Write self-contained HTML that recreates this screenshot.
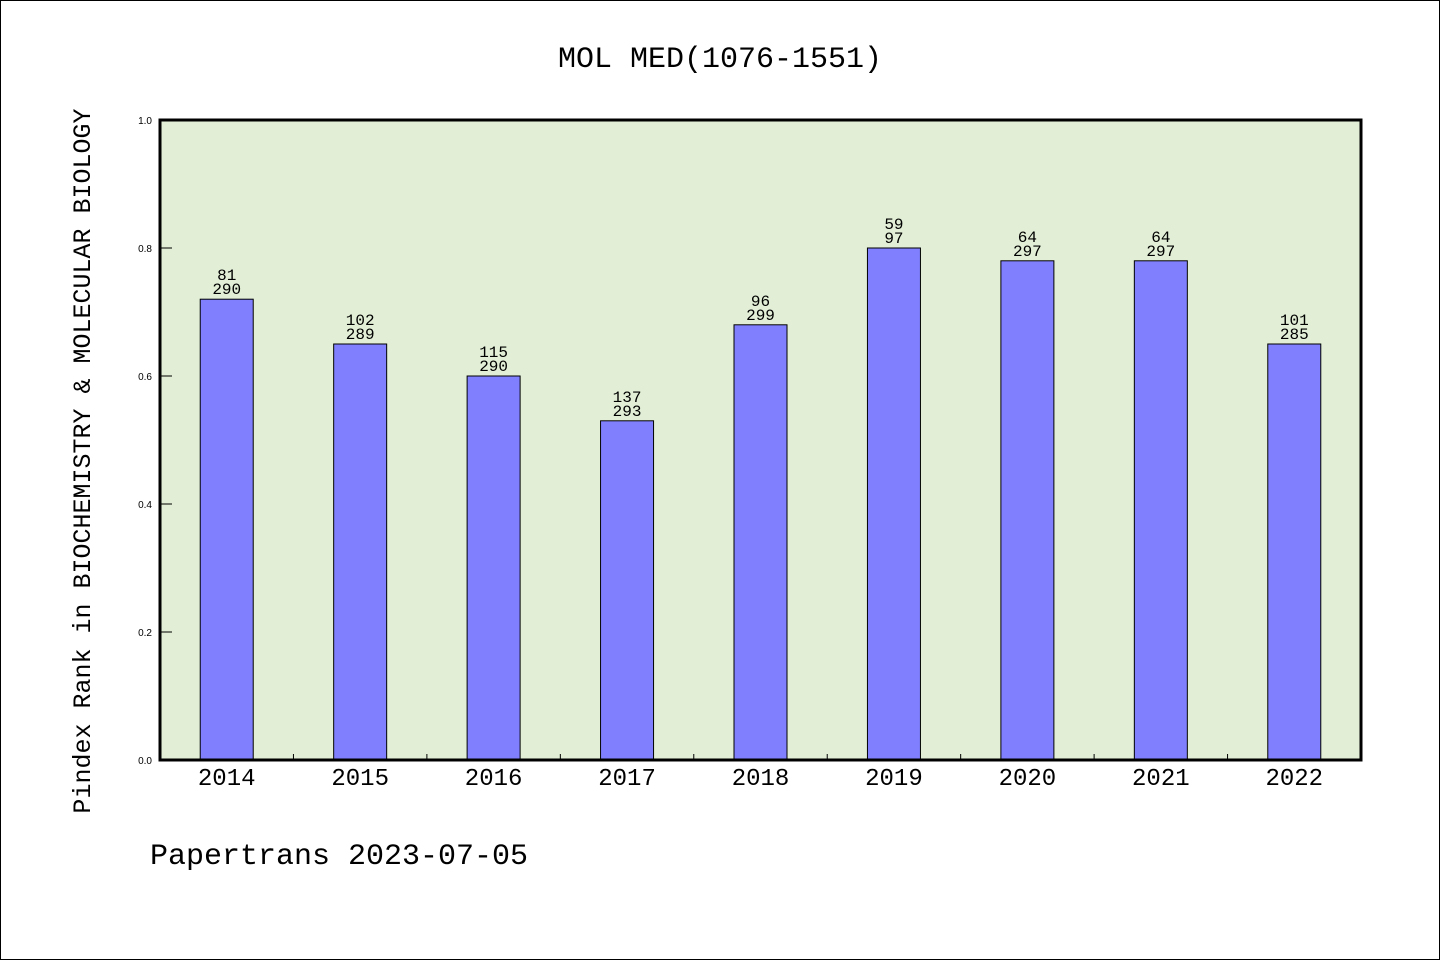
<!DOCTYPE html>
<html><head><meta charset="utf-8"><style>
html,body{margin:0;padding:0;background:#fff}
svg{display:block}
text{font-family:"WenQuanYi Zen Hei","Liberation Mono",monospace;fill:#000}
text.sans{font-family:"Liberation Sans",sans-serif}
</style></head><body>
<svg id="c" width="1440" height="960" xmlns="http://www.w3.org/2000/svg">
<rect x="0.5" y="0.5" width="1439" height="959" fill="#fff" stroke="#000"/>
<text x="720" y="67" font-size="30" text-anchor="middle">MOL MED(1076-1551)</text>
<rect x="160" y="120" width="1201" height="640" fill="#e2efd6"/>
<g id="bars"></g>
<g id="axes"></g>
<rect x="160" y="120" width="1201" height="640" fill="none" stroke="#000" stroke-width="3"/>
<text transform="translate(90,461) rotate(-90)" font-size="25" text-anchor="middle">Pindex Rank in BIOCHEMISTRY &amp; MOLECULAR BIOLOGY</text>
<text x="150" y="864" font-size="30">Papertrans 2023-07-05</text>
</svg>
<script>
const categories=["2014","2015","2016","2017","2018","2019","2020","2021","2022"];
const values=[0.72,0.65,0.60,0.53,0.68,0.80,0.78,0.78,0.65];
const ranks=["81","102","115","137","96","59","64","64","101"];
const totals=["290","289","290","293","299","97","297","297","285"];
const yTicks=[0,0.2,0.4,0.6,0.8,1.0];
const NS="http://www.w3.org/2000/svg";
const X0=160,X1=1361,Y0=760,Y1=120;
const band=(X1-X0)/categories.length;
const xc=i=>X0+band*(i+0.5);
const y=v=>Y0-(v)*(Y0-Y1);
function mk(t,a,p){const e=document.createElementNS(NS,t);for(const k in a)e.setAttribute(k,a[k]);p.appendChild(e);return e;}
const bars=document.getElementById('bars'),axes=document.getElementById('axes');
categories.forEach((c,i)=>{
  const r=mk('rect',{x:xc(i)-26.5,y:y(values[i]),width:53,height:Y0-y(values[i]),fill:'#8080ff',stroke:'#000','stroke-width':1},bars);
  
  
  const t1=mk('text',{x:xc(i),y:y(values[i])-19,'font-size':16,'text-anchor':'middle'},bars);
  t1.textContent=ranks[i];
  
  
  const t2=mk('text',{x:xc(i),y:y(values[i])-5,'font-size':16,'text-anchor':'middle'},bars);
  t2.textContent=totals[i];
  
  
  const xl=mk('text',{x:xc(i),y:785,'font-size':24,'text-anchor':'middle'},axes);
  xl.textContent=c;
  
  
  if(i>0){const tk=mk('line',{x1:X0+band*i,x2:X0+band*i,y1:Y0,y2:Y0-6,stroke:'#000','stroke-width':1},axes);
  
  }
});
yTicks.forEach(v=>{
  const tk=mk('line',{x1:X0,x2:X0+12,y1:y(v),y2:y(v),stroke:'#000','stroke-width':1},axes);
  
  
  const tl=mk('text',{x:152,y:y(v)+4,'font-size':10,'text-anchor':'end','class':'sans'},axes);
  tl.textContent=v.toFixed(1);
  
  
});
</script>
</body></html>
